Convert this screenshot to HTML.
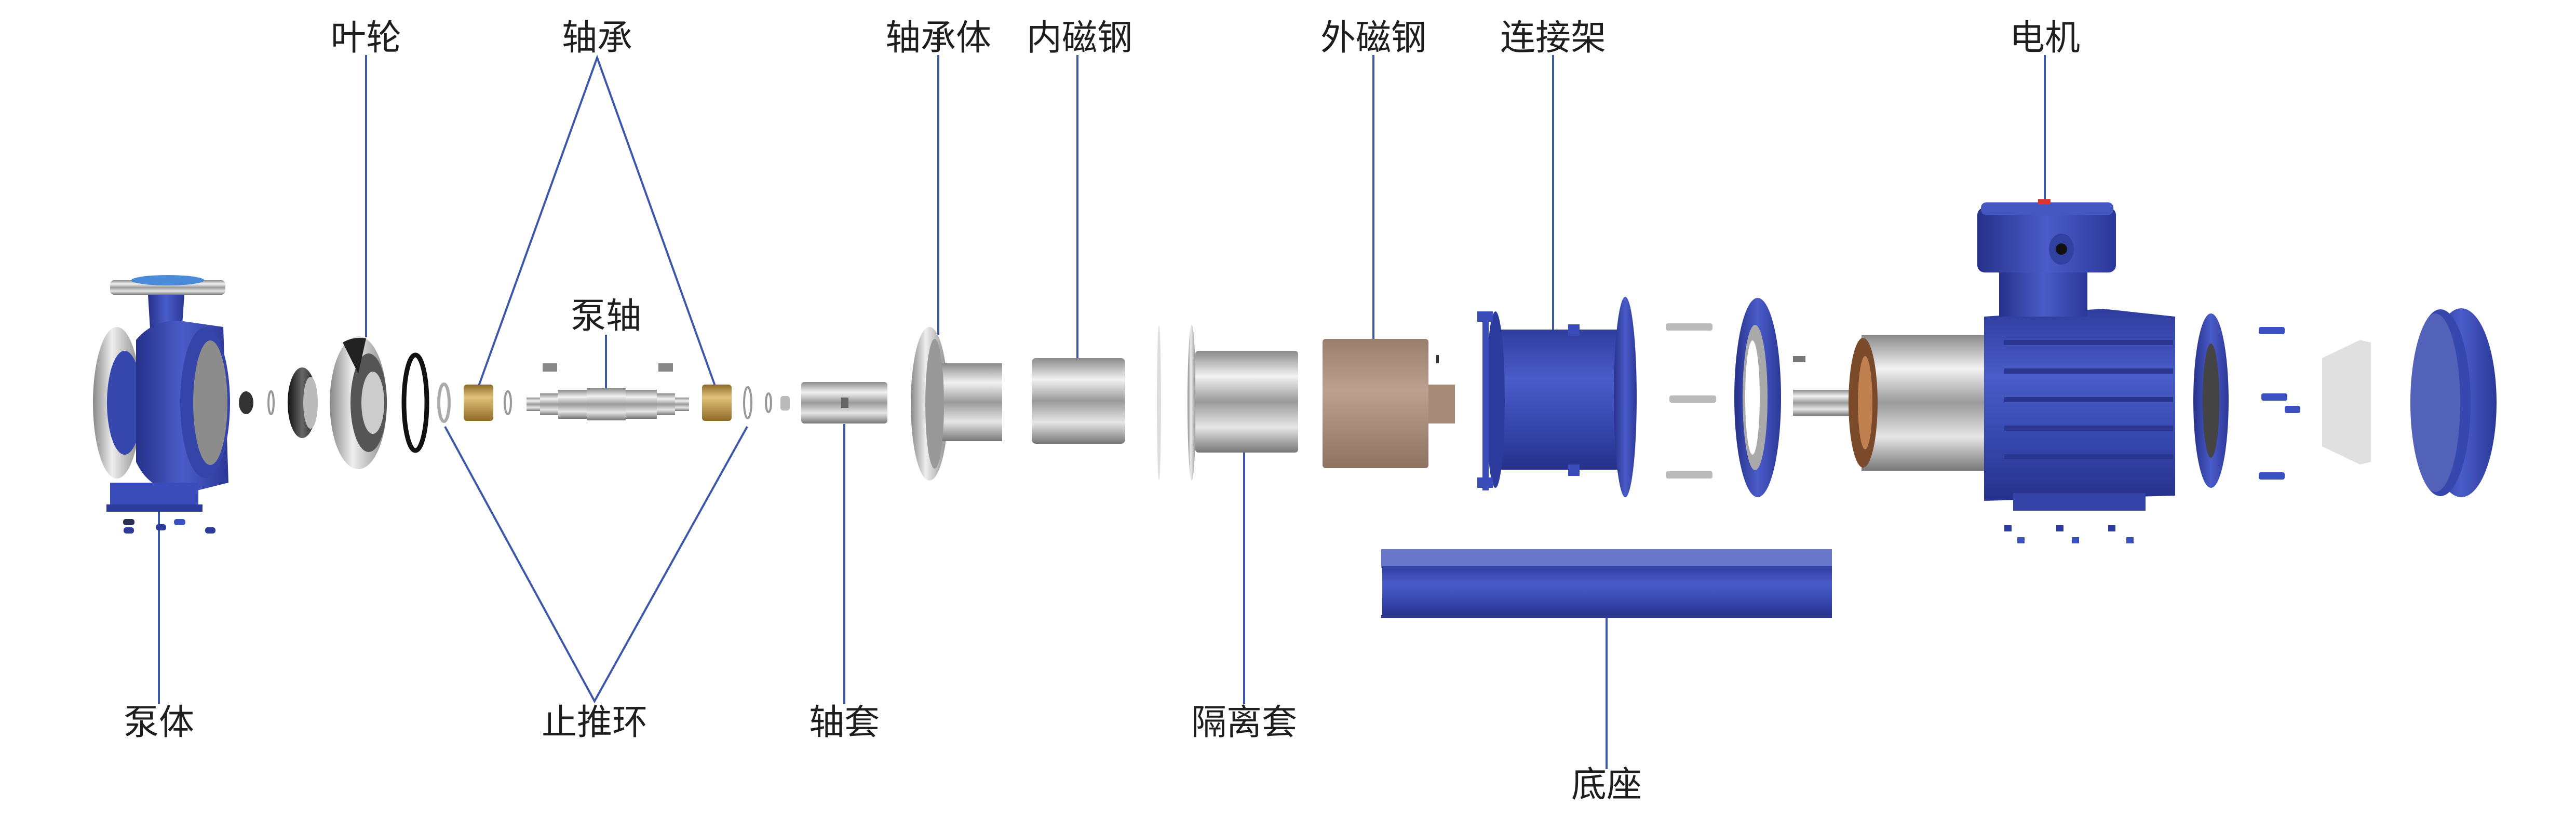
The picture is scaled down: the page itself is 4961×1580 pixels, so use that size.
<!DOCTYPE html>
<html><head><meta charset="utf-8"><style>
html,body{margin:0;padding:0;background:#fff}
svg{display:block}
text{font-family:"Liberation Sans","Noto Sans CJK SC",sans-serif;font-size:68px;fill:#1e1e1e;text-anchor:middle}
</style></head><body>
<svg width="4961" height="1580" viewBox="0 0 4961 1580" xmlns="http://www.w3.org/2000/svg">
<defs>
<linearGradient id="st" x1="0" y1="0" x2="0" y2="1">
<stop offset="0" stop-color="#8a8a8a"/><stop offset=".25" stop-color="#f2f2f2"/><stop offset=".5" stop-color="#9a9a9a"/><stop offset=".75" stop-color="#e6e6e6"/><stop offset="1" stop-color="#777"/></linearGradient>
<linearGradient id="stx" x1="0" y1="0" x2="1" y2="0">
<stop offset="0" stop-color="#888"/><stop offset=".4" stop-color="#eee"/><stop offset="1" stop-color="#8a8a8a"/></linearGradient>
<linearGradient id="bl" x1="0" y1="0" x2="0" y2="1">
<stop offset="0" stop-color="#2f3c9e"/><stop offset=".35" stop-color="#4a5cc8"/><stop offset=".7" stop-color="#3546ac"/><stop offset="1" stop-color="#26318a"/></linearGradient>
<linearGradient id="blx" x1="0" y1="0" x2="1" y2="0">
<stop offset="0" stop-color="#26318a"/><stop offset=".5" stop-color="#4a5cc8"/><stop offset="1" stop-color="#2c3898"/></linearGradient>
<linearGradient id="au" x1="0" y1="0" x2="0" y2="1">
<stop offset="0" stop-color="#8a6a2a"/><stop offset=".35" stop-color="#e3c27a"/><stop offset="1" stop-color="#8d6b27"/></linearGradient>
<linearGradient id="br" x1="0" y1="0" x2="0" y2="1">
<stop offset="0" stop-color="#9a7e6e"/><stop offset=".4" stop-color="#bca090"/><stop offset="1" stop-color="#8e7262"/></linearGradient>
<linearGradient id="bk" x1="0" y1="0" x2="1" y2="0">
<stop offset="0" stop-color="#111"/><stop offset=".5" stop-color="#666"/><stop offset="1" stop-color="#222"/></linearGradient>
</defs>

<!-- ===== leader lines ===== -->
<g stroke="#3d58a8" stroke-width="4" fill="none">
<line x1="705" y1="106" x2="705" y2="650"/>
<polyline points="921,746 1150,111 1378,746"/>
<line x1="1167" y1="645" x2="1167" y2="756"/>
<line x1="1807" y1="106" x2="1807" y2="645"/>
<line x1="2075" y1="106" x2="2075" y2="696"/>
<line x1="2645" y1="106" x2="2645" y2="655"/>
<line x1="2991" y1="106" x2="2991" y2="645"/>
<line x1="3938" y1="106" x2="3938" y2="388"/>
<line x1="306" y1="978" x2="306" y2="1356"/>
<polyline points="857,822 1145,1351 1439,822"/>
<line x1="1626" y1="817" x2="1626" y2="1356"/>
<line x1="2396" y1="872" x2="2396" y2="1356"/>
<line x1="3094" y1="1190" x2="3094" y2="1482"/>
</g>

<!-- ===== labels ===== -->
<text x="705" y="96">叶轮</text>
<text x="1150" y="96">轴承</text>
<text x="1807" y="96">轴承体</text>
<text x="2079" y="96">内磁钢</text>
<text x="2645" y="96">外磁钢</text>
<text x="2991" y="96">连接架</text>
<text x="3938" y="96">电机</text>
<text x="1167" y="632">泵轴</text>
<text x="306" y="1415">泵体</text>
<text x="1145" y="1415">止推环</text>
<text x="1626" y="1415">轴套</text>
<text x="2396" y="1415">隔离套</text>
<text x="3094" y="1535">底座</text>

<!-- ===== pump body ===== -->
<rect x="212" y="540" width="222" height="28" rx="8" fill="url(#st)"/>
<ellipse cx="323" cy="540" rx="70" ry="10" fill="#4a8ad8"/>
<path d="M285 568 L355 568 L350 640 L290 650 Z" fill="url(#blx)"/>
<ellipse cx="225" cy="776" rx="46" ry="146" fill="url(#stx)"/>
<ellipse cx="240" cy="776" rx="34" ry="100" fill="#3647ad"/>
<path d="M262 655 Q300 610 360 620 L430 630 L440 930 L360 950 Q290 950 262 890 Z" fill="url(#blx)"/>
<ellipse cx="395" cy="776" rx="48" ry="145" fill="#3444a8"/>
<ellipse cx="405" cy="776" rx="33" ry="120" fill="#8c8c8c"/>
<rect x="212" y="930" width="170" height="52" fill="#3a4cba"/>
<rect x="205" y="972" width="185" height="14" fill="#2d3c9c"/>
<g fill="#2d3c9c"><rect x="238" y="1016" width="20" height="12" rx="5"/><rect x="300" y="1010" width="20" height="12" rx="5"/><rect x="395" y="1016" width="20" height="12" rx="5"/></g>
<g fill="#3b50c0"><rect x="237" y="1000" width="22" height="12" rx="5" fill="#2a3050"/><rect x="335" y="1000" width="22" height="12" rx="5"/></g>

<!-- small parts -->
<ellipse cx="474" cy="776" rx="14" ry="22" fill="#333"/>
<ellipse cx="522" cy="776" rx="5" ry="22" fill="none" stroke="#999" stroke-width="4"/>
<ellipse cx="582" cy="776" rx="28" ry="68" fill="url(#bk)"/>
<ellipse cx="598" cy="776" rx="14" ry="50" fill="#bbb"/>
<!-- impeller -->
<ellipse cx="690" cy="776" rx="55" ry="128" fill="url(#stx)"/>
<ellipse cx="710" cy="776" rx="35" ry="95" fill="#555"/>
<ellipse cx="718" cy="776" rx="22" ry="60" fill="#ccc"/>
<path d="M660 660 Q680 648 705 652 L690 720 Z" fill="#222"/>
<ellipse cx="800" cy="776" rx="22" ry="92" fill="none" stroke="#111" stroke-width="9"/>
<ellipse cx="855" cy="776" rx="10" ry="36" fill="none" stroke="#aaa" stroke-width="6"/>
<!-- bearings -->
<rect x="893" y="741" width="57" height="70" rx="6" fill="url(#au)"/>
<rect x="1352" y="741" width="57" height="70" rx="6" fill="url(#au)"/>
<ellipse cx="978" cy="776" rx="6" ry="22" fill="none" stroke="#999" stroke-width="4"/>
<ellipse cx="1440" cy="776" rx="7" ry="30" fill="none" stroke="#999" stroke-width="4"/>
<ellipse cx="1480" cy="776" rx="5" ry="18" fill="none" stroke="#999" stroke-width="4"/>
<rect x="1503" y="763" width="18" height="28" rx="5" fill="#bbb"/>
<!-- shaft -->
<rect x="1045" y="897" width="0" height="0"/>
<rect x="1045" y="700" width="28" height="16" fill="#888"/>
<rect x="1268" y="700" width="28" height="16" fill="#888"/>
<rect x="1014" y="766" width="313" height="26" fill="url(#st)"/>
<rect x="1040" y="758" width="260" height="42" fill="url(#st)"/>
<rect x="1075" y="751" width="190" height="56" fill="url(#st)"/>
<rect x="1130" y="748" width="75" height="62" fill="url(#st)"/>
<!-- sleeve -->
<rect x="1543" y="736" width="166" height="80" rx="6" fill="url(#st)"/>
<rect x="1620" y="766" width="14" height="20" fill="#666"/>
<!-- bearing body -->
<ellipse cx="1790" cy="778" rx="36" ry="148" fill="url(#stx)"/>
<rect x="1800" y="700" width="130" height="150" fill="url(#st)"/>
<ellipse cx="1800" cy="778" rx="18" ry="125" fill="#999"/>
<!-- inner magnet -->
<rect x="1987" y="690" width="180" height="165" rx="8" fill="url(#st)"/>
<!-- isolation sleeve -->
<ellipse cx="2232" cy="776" rx="4" ry="148" fill="#ddd"/>
<ellipse cx="2295" cy="776" rx="8" ry="150" fill="url(#stx)"/>
<rect x="2302" y="676" width="198" height="196" rx="6" fill="url(#st)"/>
<!-- outer magnet -->
<rect x="2547" y="653" width="204" height="249" rx="6" fill="url(#br)"/>
<rect x="2751" y="741" width="51" height="75" fill="#a88a78"/>
<rect x="2766" y="684" width="5" height="16" fill="#333"/>
<!-- connecting frame -->
<rect x="2880" y="635" width="245" height="270" fill="url(#bl)"/>
<ellipse cx="2880" cy="770" rx="18" ry="170" fill="#2e3b9e"/>
<rect x="2855" y="605" width="12" height="340" fill="#3a4cba"/>
<ellipse cx="3130" cy="765" rx="22" ry="193" fill="url(#blx)"/>
<g fill="#3a4cba"><rect x="2845" y="600" width="30" height="20"/><rect x="2845" y="920" width="30" height="20"/><rect x="3020" y="625" width="22" height="22"/><rect x="3020" y="895" width="22" height="22"/></g>
<!-- bolts -->
<g fill="#bbb"><rect x="3208" y="623" width="90" height="14" rx="4"/><rect x="3215" y="762" width="90" height="14" rx="4"/><rect x="3208" y="908" width="90" height="14" rx="4"/></g>
<!-- flange disc -->
<ellipse cx="3385" cy="766" rx="45" ry="192" fill="url(#blx)"/>
<ellipse cx="3380" cy="766" rx="24" ry="140" fill="#aaa"/>
<ellipse cx="3375" cy="766" rx="14" ry="110" fill="#fff"/>
<rect x="3453" y="686" width="24" height="12" fill="#777"/>
<!-- motor shaft & stator -->
<rect x="3453" y="751" width="132" height="50" fill="url(#st)"/>
<rect x="3585" y="645" width="264" height="262" fill="url(#st)"/>
<ellipse cx="3588" cy="776" rx="28" ry="125" fill="#7a4a2a"/>
<ellipse cx="3592" cy="776" rx="14" ry="90" fill="#c08050"/>
<!-- motor body -->
<path d="M3821 610 L4050 595 L4189 610 L4189 955 L3821 965 Z" fill="url(#bl)"/>
<g stroke="#2a3690" stroke-width="10"><line x1="3860" y1="660" x2="4185" y2="660"/><line x1="3860" y1="715" x2="4185" y2="715"/><line x1="3860" y1="770" x2="4185" y2="770"/><line x1="3860" y1="825" x2="4185" y2="825"/><line x1="3860" y1="880" x2="4185" y2="880"/></g>
<rect x="3877" y="950" width="255" height="34" fill="#3343a8"/>
<rect x="3850" y="520" width="170" height="90" fill="url(#blx)"/>
<rect x="3808" y="400" width="267" height="125" rx="14" fill="url(#blx)"/>
<rect x="3815" y="390" width="255" height="24" rx="10" fill="#4557c0"/>
<rect x="3925" y="384" width="24" height="10" fill="#d33"/>
<ellipse cx="3970" cy="480" rx="24" ry="30" fill="#3141a2"/><circle cx="3970" cy="480" r="11" fill="#111"/>
<g fill="#2e3b9e"><rect x="3860" y="1012" width="14" height="12"/><rect x="3960" y="1012" width="14" height="12"/><rect x="4060" y="1012" width="14" height="12"/></g>
<g fill="#3b50c0"><rect x="3885" y="1035" width="14" height="12"/><rect x="3990" y="1035" width="14" height="12"/><rect x="4095" y="1035" width="14" height="12"/></g>
<!-- end bracket -->
<ellipse cx="4258" cy="772" rx="34" ry="168" fill="url(#blx)"/>
<ellipse cx="4258" cy="772" rx="16" ry="110" fill="#444"/>
<g fill="#3b50c0"><rect x="4350" y="630" width="50" height="14" rx="4"/><rect x="4355" y="758" width="50" height="14" rx="4"/><rect x="4350" y="910" width="50" height="14" rx="4"/><rect x="4400" y="782" width="30" height="14" rx="4"/></g>
<!-- fan -->
<path d="M4472 690 L4545 655 L4566 660 L4566 890 L4545 895 L4472 860 Z" fill="#e0e0e0"/>
<!-- fan cover -->
<ellipse cx="4740" cy="776" rx="68" ry="182" fill="url(#blx)"/>
<ellipse cx="4700" cy="776" rx="58" ry="180" fill="#3647ad"/>
<ellipse cx="4690" cy="776" rx="48" ry="172" fill="#fff" fill-opacity=".15"/>
<!-- base -->
<rect x="2660" y="1058" width="868" height="36" fill="#6a78cc"/>
<rect x="2662" y="1090" width="866" height="100" fill="url(#bl)"/>
<rect x="2660" y="1185" width="868" height="6" fill="#2a3690"/>
</svg>
</body></html>
